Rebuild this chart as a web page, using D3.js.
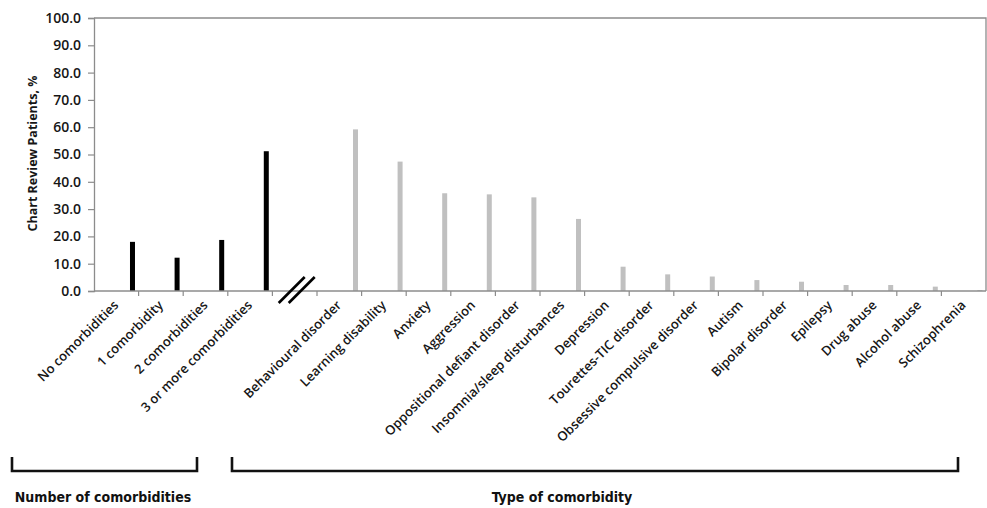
<!DOCTYPE html>
<html>
<head>
<meta charset="utf-8">
<script src="https://cdn.jsdelivr.net/npm/d3@7/dist/d3.min.js"></script>
<style>
  html, body { margin: 0; padding: 0; background: #fff; }
  svg { display: block; }
</style>
</head>
<body>
<svg id="chart" width="987" height="508"></svg>
<script>
// ---- data ----
const countCategories = ["No comorbidities", "1 comorbidity", "2 comorbidities", "3 or more comorbidities"];
const countValues = [18.0, 12.2, 18.7, 51.2];
const typeCategories = ["Behavioural disorder", "Learning disability", "Anxiety", "Aggression",
  "Oppositional defiant disorder", "Insomnia/sleep disturbances", "Depression", "Tourettes-TIC disorder",
  "Obsessive compulsive disorder", "Autism", "Bipolar disorder", "Epilepsy", "Drug abuse",
  "Alcohol abuse", "Schizophrenia"];
const typeValues = [59.2, 47.4, 35.8, 35.4, 34.3, 26.4, 8.9, 6.1, 5.3, 4.0, 3.4, 2.2, 2.2, 1.6, 0.3];
const yTicks = [0, 10, 20, 30, 40, 50, 60, 70, 80, 90, 100];
const yTitle = "Chart Review Patients, %";
const groupTitles = ["Number of comorbidities", "Type of comorbidity"];

// ---- layout ----
const svg = d3.select("#chart");
const mLeft = 94, mRight = 986, mTop = 18, mBottom = 291;
const breakKey = "__break__";
const slots = [...countCategories, breakKey, ...typeCategories];

const x = d3.scaleBand().domain(slots).range([mLeft, mRight]).padding(0);
const y = d3.scaleLinear().domain([0, 100]).range([mBottom, mTop]);
const bw = x.bandwidth();
const barW = 5;
const barOffset = 0.863;

const labelFont = "'Open Sans', 'DejaVu Sans', sans-serif";
const textColor = "#161616";
const axisColor = "#8c8c8c";

// plot border (top and right)
svg.append("path")
  .attr("d", `M${mLeft},${mTop}H${mRight}V${mBottom}`)
  .attr("fill", "none").attr("stroke", axisColor).attr("stroke-width", 1.3);

// bars
const countData = countCategories.map((c, i) => ({ c, v: countValues[i] }));
const typeData = typeCategories.map((c, i) => ({ c, v: typeValues[i] }));

svg.append("g").selectAll("rect").data(countData).join("rect")
  .attr("x", d => x(d.c) + bw * barOffset - barW / 2)
  .attr("width", barW)
  .attr("y", d => y(d.v))
  .attr("height", d => y(0) - y(d.v))
  .attr("fill", "#000");

svg.append("g").selectAll("rect").data(typeData).join("rect")
  .attr("x", d => x(d.c) + bw * barOffset - barW / 2)
  .attr("width", barW)
  .attr("y", d => y(d.v))
  .attr("height", d => y(0) - y(d.v))
  .attr("fill", "#c0c0c0");

// y axis
const yAxis = svg.append("g").attr("transform", `translate(${mLeft},0)`)
  .call(d3.axisLeft(y).tickValues(yTicks).tickFormat(d3.format(".1f")).tickSize(6).tickPadding(7));
yAxis.select(".domain").attr("stroke", axisColor).attr("stroke-width", 1.3);
yAxis.selectAll(".tick line").attr("stroke", axisColor).attr("stroke-width", 1.2);
yAxis.selectAll(".tick text")
  .attr("font-family", labelFont).attr("font-size", 14).attr("font-weight", 600)
  .attr("fill", textColor);

// x axis (ticks at band boundaries)
svg.append("line")
  .attr("x1", mLeft).attr("x2", mRight).attr("y1", mBottom).attr("y2", mBottom)
  .attr("stroke", axisColor).attr("stroke-width", 1.3);
svg.append("g").selectAll("line").data(slots.slice(1)).join("line")
  .attr("x1", d => x(d)).attr("x2", d => x(d))
  .attr("y1", mBottom).attr("y2", mBottom + 5)
  .attr("stroke", axisColor).attr("stroke-width", 1.2);

// x labels
svg.append("g").selectAll("text").data(slots.filter(s => s !== breakKey)).join("text")
  .attr("transform", d => `translate(${x(d) + bw / 2 + 3},${mBottom + 15}) rotate(-45)`)
  .attr("text-anchor", "end")
  .attr("font-family", labelFont).attr("font-size", 13).attr("font-weight", 600)
  .attr("fill", textColor)
  .text(d => d);

// axis break marks
const bx = x(breakKey) + bw / 2 + 2;
[-5, 5].forEach(dx => {
  svg.append("line")
    .attr("x1", bx + dx - 13).attr("y1", mBottom + 12)
    .attr("x2", bx + dx + 13).attr("y2", mBottom - 14)
    .attr("stroke", "#000").attr("stroke-width", 2.6);
});

// y title
svg.append("text")
  .attr("transform", `translate(36.5,${(mTop + mBottom) / 2 - 1}) rotate(-90)`)
  .attr("text-anchor", "middle")
  .attr("font-family", labelFont).attr("font-size", 12.5).attr("font-weight", 700)
  .attr("fill", textColor)
  .text(yTitle);

// group brackets
const brackets = [
  { x1: 12, x2: 197, tx: 103, t: groupTitles[0] },
  { x1: 232, x2: 958, tx: 562, t: groupTitles[1] }
];
const bracketTop = 457, bracketBottom = 471;
svg.append("g").selectAll("path").data(brackets).join("path")
  .attr("d", d => `M${d.x1},${bracketTop}V${bracketBottom}H${d.x2}V${bracketTop}`)
  .attr("fill", "none").attr("stroke", "#111").attr("stroke-width", 2.6);
svg.append("g").selectAll("text").data(brackets).join("text")
  .attr("x", d => d.tx).attr("y", 502)
  .attr("text-anchor", "middle")
  .attr("font-family", "'Liberation Sans Narrow', 'DejaVu Sans Condensed', 'Liberation Sans', sans-serif")
  .attr("font-size", 14).attr("font-weight", 700)
  .attr("fill", "#111")
  .text(d => d.t);
</script>
</body>
</html>
